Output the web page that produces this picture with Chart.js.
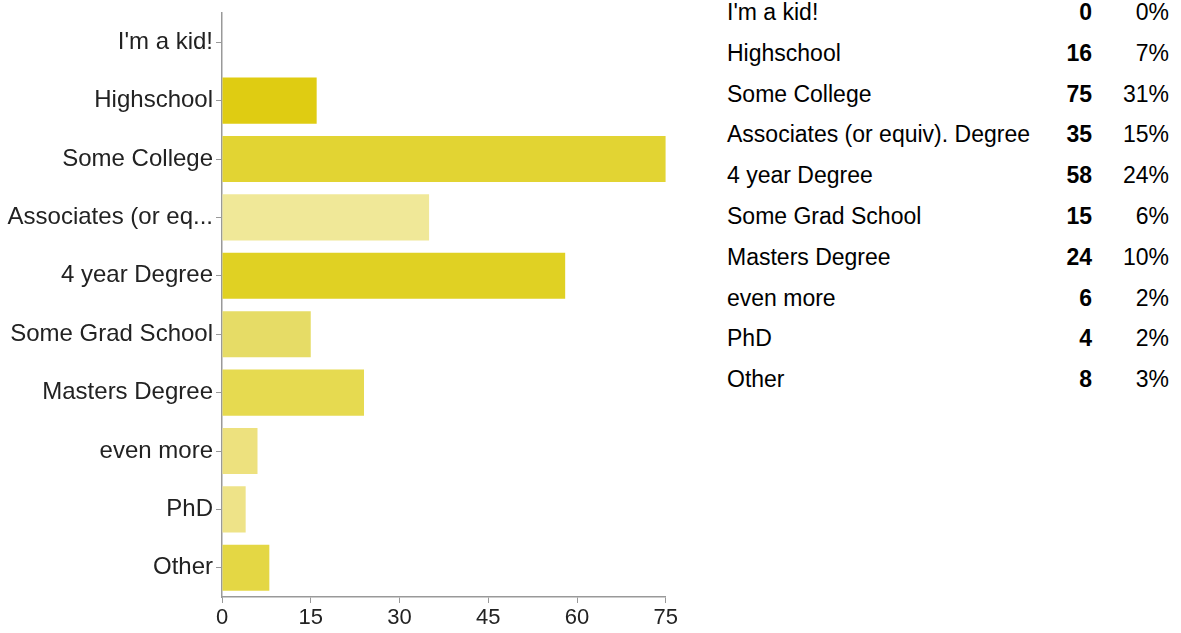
<!DOCTYPE html>
<html>
<head>
<meta charset="utf-8">
<script src="https://cdn.jsdelivr.net/npm/chart.js@4/dist/chart.umd.min.js"></script>
<style>
  body { margin: 0; background: #fff; font-family: "Liberation Sans", Arial, sans-serif; }
  #wrap { position: absolute; left: 0; top: 0; width: 680px; height: 633px; }
  #tableau { position: absolute; left: 727px; top: 0; font-size: 23px; color: #000; }
  #tableau .ligne { position: absolute; left: 0; height: 24px; line-height: 24px; white-space: nowrap; }
  #tableau .nb { position: absolute; left: 300px; width: 65px; text-align: right; font-weight: bold; }
  #tableau .pct { position: absolute; left: 370px; width: 72px; text-align: right; }
</style>
</head>
<body>
<div id="wrap"><canvas id="myChart"></canvas></div>
<div id="tableau"></div>
<script>
// categories et valeurs
const categories = ["I'm a kid!", "Highschool", "Some College", "Associates (or equiv). Degree",
  "4 year Degree", "Some Grad School", "Masters Degree", "even more", "PhD", "Other"]
const reponses = [0, 16, 75, 35, 58, 15, 24, 6, 4, 8]
const pourcentages = ["0%", "7%", "31%", "15%", "24%", "6%", "10%", "2%", "2%", "3%"]
const couleurs = ["#e3d42e", "#dfcc12", "#e2d433", "#f0e898", "#e0d123", "#e6dc66",
  "#e6da50", "#ede17e", "#eee388", "#e4d744"]
const ticksX = [0, 15, 30, 45, 60, 75]

// tableau de droite
let texteHTML = ""
for (let i = 0; i < categories.length; i++) {
  let top = 0 + i * 40.8
  texteHTML += `<div class="ligne" style="top:${top}px">${categories[i]}
    <span class="nb">${reponses[i]}</span><span class="pct">${pourcentages[i]}</span></div>`
}
document.getElementById("tableau").innerHTML = texteHTML

const ctx = document.getElementById('myChart')
new Chart(ctx, {
  type: 'bar',
  data: {
    labels: categories,
    datasets: [{
      data: reponses,
      backgroundColor: couleurs,
      barPercentage: 0.79,
      categoryPercentage: 1,
    }],
  },
  options: {
    indexAxis: 'y',
    responsive: true,
    maintainAspectRatio: false,
    animation: false,
    layout: { padding: { top: 13, left: 0, right: 0, bottom: 0 } },
    plugins: {
      legend: { display: false },
      tooltip: { enabled: false },
    },
    scales: {
      x: {
        min: 0,
        max: 75,
        afterBuildTicks: (axis) => { axis.ticks = ticksX.map(v => ({ value: v })) },
        afterFit: (axis) => { axis.height = 36 },
        border: { color: '#999', width: 1.5 },
        grid: { drawOnChartArea: false, color: '#999', tickLength: 6 },
        ticks: { color: '#222', font: { size: 22, family: 'Liberation Sans' }, padding: 2 },
      },
      y: {
        afterFit: (axis) => {
          axis.width = 222
          axis.paddingTop = 0
          axis.paddingBottom = 0
        },
        border: { color: '#999', width: 1.5 },
        grid: { drawOnChartArea: false, offset: false, color: '#999', tickLength: 6 },
        ticks: {
          color: '#222',
          font: { size: 24, family: 'Liberation Sans' },
          padding: 3,
          callback: function (val) {
            let lab = this.getLabelForValue(val)
            return lab.length > 20 ? lab.substring(0, 17) + '...' : lab
          },
        },
      },
    },
  },
})
</script>
</body>
</html>
